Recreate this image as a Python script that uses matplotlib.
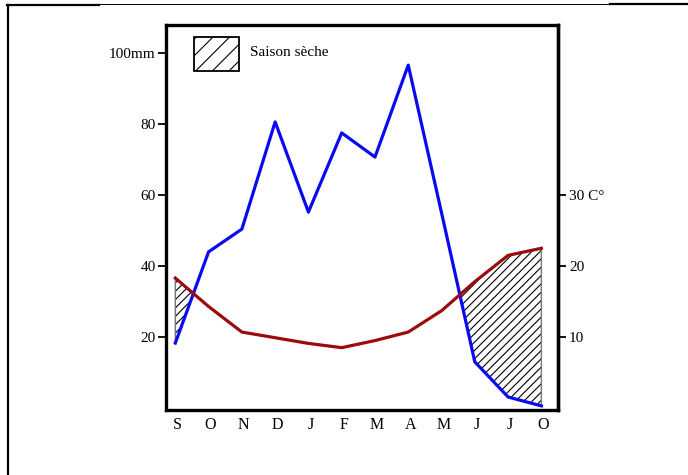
import matplotlib
matplotlib.use("Agg")
import matplotlib.pyplot as plt
import numpy as np
from matplotlib.lines import Line2D
from matplotlib.patches import Rectangle
from matplotlib.transforms import ScaledTranslation

plt.rcParams['font.family'] = ['Liberation Serif', 'DejaVu Serif']
plt.rcParams['hatch.linewidth'] = 0.8

months = ['S', 'O', 'N', 'D', 'J', 'F', 'M', 'A', 'M', 'J', 'J', 'O']
precip_mm = [18.3, 44, 50.4, 80.6, 55.2, 77.5, 70.7, 96.6, 55, 13, 3.1, 0.6]
temp_c = [18.3, 14.3, 10.7, 9.9, 9.1, 8.5, 9.5, 10.7, 13.7, 17.8, 21.5, 22.5]
left_ticks = [20, 40, 60, 80, 100]
left_labels = ['20', '40', '60', '80', '100mm']
right_ticks = [10, 20, 30]
right_labels = ['10', '20', '30 C°']
legend_label = 'Saison sèche'

W, H = 688, 475
fig = plt.figure(figsize=(W / 100, H / 100), dpi=100)
ax = fig.add_axes([166 / W, 1 - 410 / H, (558 - 166) / W, (410 - 25) / H])

x = np.arange(len(months))
p = np.array(precip_mm)
t2 = 2 * np.array(temp_c)

# dry season hatch
ax.fill_between(x, p, t2, where=t2 > p, interpolate=True, facecolor='none',
                edgecolor='black', hatch='////', linewidth=0, zorder=1)
ax.fill_between(x, p, t2, where=t2 > p, interpolate=True, facecolor='none',
                edgecolor='#777777', linewidth=1.0, zorder=1.5)

ax.plot(x, p, color='#0a0af0', linewidth=2.3, zorder=3)
ax.plot(x, t2, color='#9a0c0c', linewidth=2.3, zorder=3)

ax.set_xlim(-0.28, 11.5)
ax.set_ylim(-0.56, 107.9)

ax.set_xticks(x)
ax.set_xticklabels(months, fontsize=11.5)
ax.tick_params(axis='x', length=0, pad=5)
for lbl in ax.get_xticklabels():
    lbl.set_transform(lbl.get_transform() + ScaledTranslation(2 / 100, 0, fig.dpi_scale_trans))

ax.set_yticks(left_ticks)
ax.set_yticklabels(left_labels, fontsize=11)
ax.tick_params(axis='y', direction='out', length=6, width=1.3, pad=1.5)

sec = ax.secondary_yaxis('right', functions=(lambda v: v / 2, lambda v: v * 2))
sec.set_yticks(right_ticks)
sec.set_yticklabels(right_labels, fontsize=11)
sec.tick_params(axis='y', direction='out', length=6, width=1.3, pad=2)
sec.spines['right'].set_linewidth(2.4)

for s in ax.spines.values():
    s.set_linewidth(2.4)
    s.set_color('black')

# legend
leg_box = Rectangle((194 / W, 1 - 71 / H), 45 / W, 34 / H, transform=fig.transFigure,
                    facecolor='white', edgecolor='black', hatch='//', linewidth=1.3, zorder=5)
fig.add_artist(leg_box)
fig.text(250 / W, 1 - 53 / H, legend_label, fontsize=11, va='center', ha='left')

# scanned frame lines
fig.add_artist(Line2D([8 / W, 8 / W], [1 - 4.5 / H, 0], transform=fig.transFigure,
                      color='black', linewidth=1.6))
fig.add_artist(Line2D([7 / W, 99 / W], [1 - 5 / H, 1 - 5 / H], transform=fig.transFigure,
                      color='black', linewidth=1.6))
fig.add_artist(Line2D([99 / W, 610 / W], [1 - 4.3 / H, 1 - 4.3 / H], transform=fig.transFigure,
                      color='black', linewidth=0.7))
fig.add_artist(Line2D([610 / W, 1], [1 - 4.2 / H, 1 - 4.2 / H], transform=fig.transFigure,
                      color='black', linewidth=1.6))

fig.savefig('out.png', dpi=100)
